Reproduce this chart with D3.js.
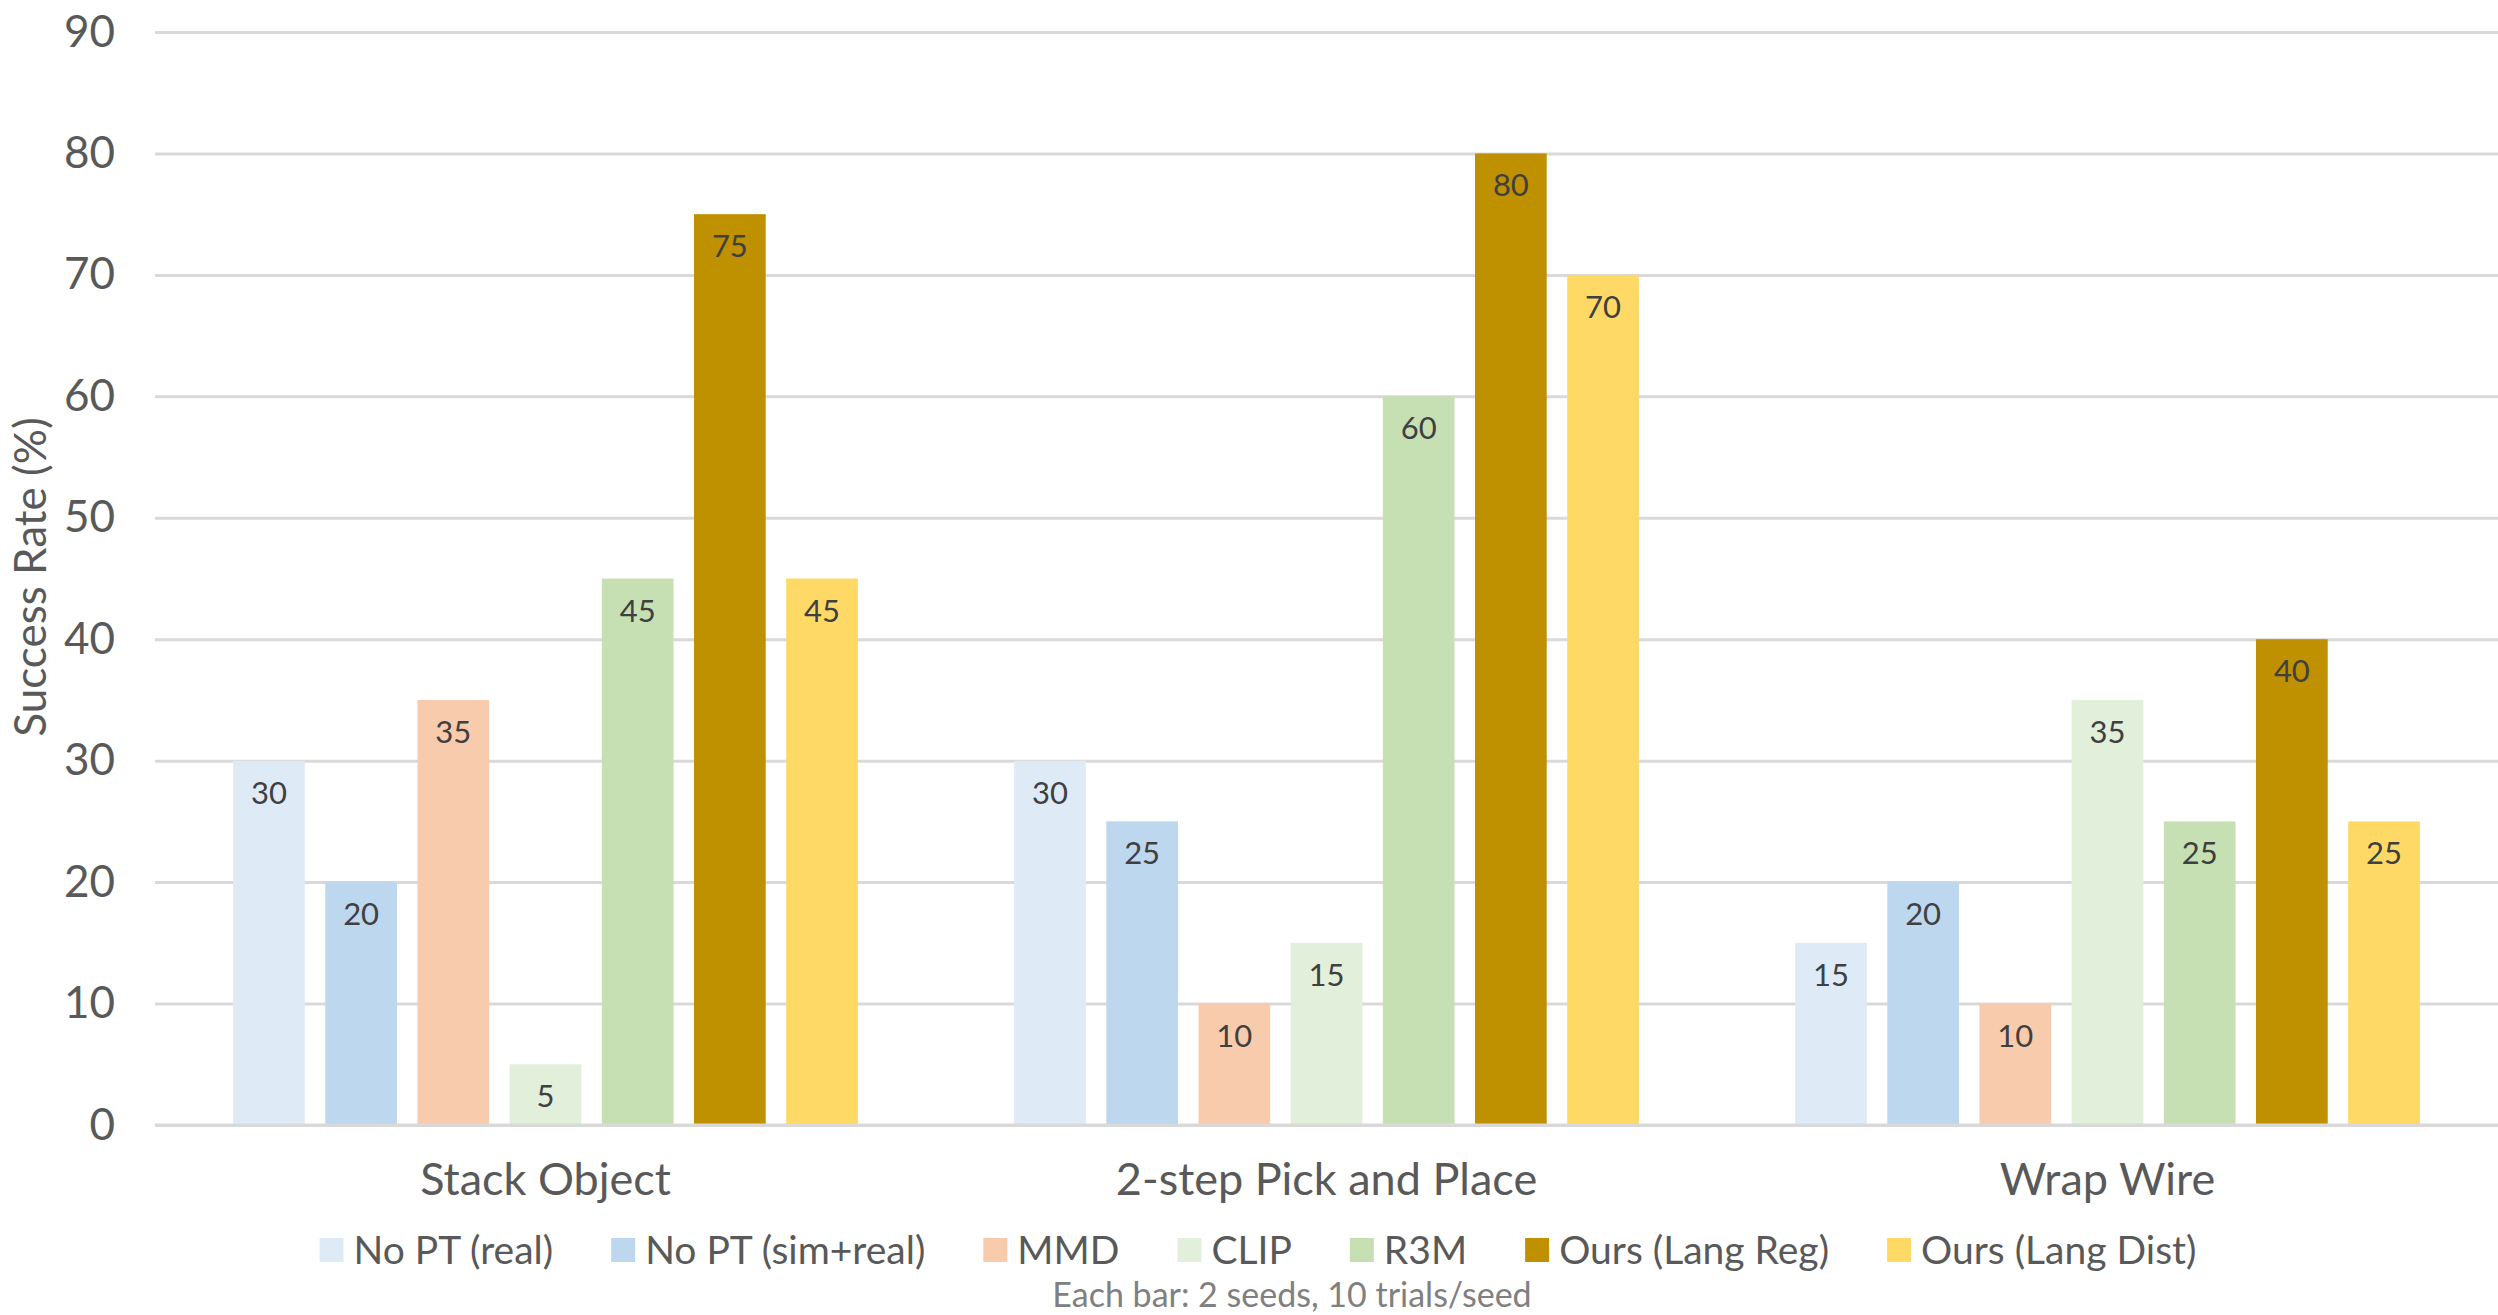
<!DOCTYPE html>
<html><head><meta charset="utf-8">
<script src="https://cdn.jsdelivr.net/npm/d3@7"></script>
<style>
html,body{margin:0;padding:0;background:#fff;}
svg{display:block;font-family:Lato, "Open Sans", sans-serif;}
</style></head>
<body>
<svg id="chart" width="2498" height="1315"></svg>
<script>
const categories = ["Stack Object", "2-step Pick and Place", "Wrap Wire"];
const seriesNames = ["No PT (real)", "No PT (sim+real)", "MMD", "CLIP", "R3M", "Ours (Lang Reg)", "Ours (Lang Dist)"];
const seriesColors = ["#DEEBF7", "#BDD7EE", "#F8CBAD", "#E2EFDA", "#C6E0B4", "#BF9000", "#FFD966"];
const valuesNoPTReal    = [30, 30, 15];
const valuesNoPTSimReal = [20, 25, 20];
const valuesMMD         = [35, 10, 10];
const valuesCLIP        = [5, 15, 35];
const valuesR3M         = [45, 60, 25];
const valuesLangReg     = [75, 80, 40];
const valuesLangDist    = [45, 70, 25];
const yTicks = [0, 10, 20, 30, 40, 50, 60, 70, 80, 90];
const yTitle = "Success Rate (%)";
const footnote = "Each bar: 2 seeds, 10 trials/seed";

const seriesValues = [valuesNoPTReal, valuesNoPTSimReal, valuesMMD, valuesCLIP, valuesR3M, valuesLangReg, valuesLangDist];

const svg = d3.select("#chart");
const W = 2498, H = 1315;
const plot = {left: 155, right: 2498, top: 32, bottom: 1125};

const y = d3.scaleLinear().domain([0, 90]).range([plot.bottom, plot.top]);
const x0 = d3.scaleBand().domain(categories).range([plot.left, plot.right]).padding(0);
const x1 = d3.scaleBand().domain(seriesNames)
  .range([x0.bandwidth() * 0.1, x0.bandwidth() * 0.9]).paddingInner(0.222).paddingOuter(0);

// gridlines
const yAxis = d3.axisLeft(y).tickValues(yTicks).tickSize(-(plot.right - plot.left)).tickPadding(40);
const gy = svg.append("g").attr("transform", `translate(${plot.left},0)`).call(yAxis);
gy.select(".domain").remove();
gy.selectAll(".tick line").attr("stroke", "#D9D9D9").attr("stroke-width", 3);
gy.selectAll(".tick text").attr("fill", "#595959").attr("font-size", 44).attr("font-family", "Lato");

// y title
svg.append("text")
  .attr("transform", `translate(46,577) rotate(-90)`)
  .attr("text-anchor", "middle")
  .attr("fill", "#595959").attr("font-size", 44)
  .text(yTitle);

// bars
const data = [];
categories.forEach((c, ci) => seriesNames.forEach((s, si) => data.push({c, s, si, v: seriesValues[si][ci]})));

const bars = svg.append("g");
bars.selectAll("rect").data(data).join("rect")
  .attr("x", d => x0(d.c) + x1(d.s))
  .attr("y", d => y(d.v))
  .attr("width", x1.bandwidth())
  .attr("height", d => y(0) - y(d.v))
  .attr("fill", d => seriesColors[d.si]);

bars.selectAll("text").data(data).join("text")
  .attr("x", d => x0(d.c) + x1(d.s) + x1.bandwidth() / 2)
  .attr("y", d => y(d.v) + 43)
  .attr("text-anchor", "middle")
  .attr("fill", "#404040").attr("font-size", 31)
  .text(d => d.v);

// x axis line
svg.append("line").attr("x1", plot.left).attr("x2", plot.right)
  .attr("y1", y(0)).attr("y2", y(0)).attr("stroke", "#D9D9D9").attr("stroke-width", 3);

// x axis labels
const xAxis = d3.axisBottom(x0).tickSize(0).tickPadding(38);
const gx = svg.append("g").attr("transform", `translate(0,${plot.bottom})`).call(xAxis);
gx.select(".domain").remove();
gx.selectAll(".tick text").attr("fill", "#595959").attr("font-size", 45).attr("font-family", "Lato");

// legend
const legend = svg.append("g");
const items = legend.selectAll("g").data(seriesNames).join("g");
items.append("rect").attr("width", 24).attr("height", 24).attr("y", -12)
  .attr("fill", (d, i) => seriesColors[i]);
items.append("text").attr("x", 34).attr("dy", "0.35em")
  .attr("fill", "#595959").attr("font-size", 39).text(d => d);
let xpos = 0;
const gap = 58;
items.each(function() {
  const g = d3.select(this);
  const w = 34 + g.select("text").node().getComputedTextLength();
  g.attr("transform", `translate(${xpos},0)`);
  xpos += w + gap;
});
const legendW = xpos - gap;
legend.attr("transform", `translate(${1258 - legendW / 2},1250)`);

svg.append("text").attr("x", 1292).attr("y", 1295).attr("dy", "0.35em")
  .attr("text-anchor", "middle").attr("fill", "#808080").attr("font-size", 34)
  .text(footnote);
</script>
</body></html>
